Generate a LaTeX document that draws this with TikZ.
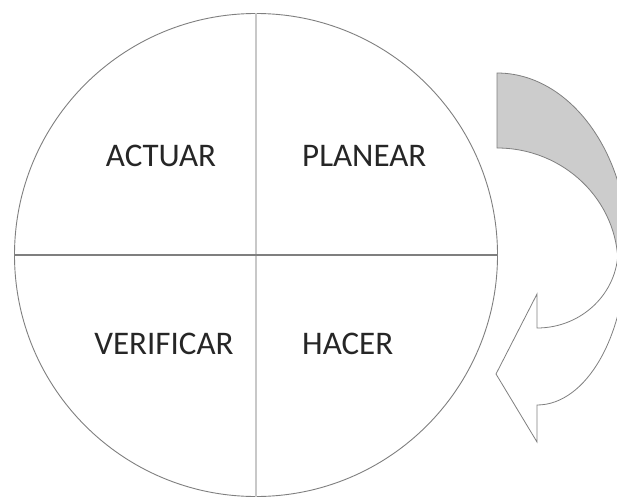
\documentclass[tikz,border=0pt]{standalone}
\usepackage{fontspec}
\setmainfont{Carlito}
\usepackage{tikz}
\usetikzlibrary{positioning}

\definecolor{rim}{HTML}{7F7F7F}
\definecolor{lightrule}{HTML}{C8C8C8}
\definecolor{back}{HTML}{CCCCCC}

\begin{document}
\begin{tikzpicture}[
  x=1pt, y=1pt,
  wheel/.style={draw=rim, circle, line width=0.9pt, inner sep=0pt, outer sep=0pt,
                minimum size=483pt},
  lbl/.style={font=\fontsize{33}{40}\selectfont, text=black!85, inner sep=0pt},
  arrowline/.style={draw=rim, line width=0.8pt, line join=miter}
]
\clip (0,0) rectangle (617,499);

\node[wheel] (ciclo) at (256,244) {};
\draw[lightrule, line width=1.8pt] (ciclo.north) -- (ciclo.south);
\draw[rim, line width=1.8pt] (ciclo.west) -- (ciclo.east);

\node[lbl] (actuar) at (161,343) {ACTUAR};
\node[lbl, anchor=west] (planear) at (302,343) {PLANEAR};
\node[lbl] (verificar) at (164,155) {VERIFICAR};
\node[lbl, anchor=west] (hacer) at (302,155) {HACER};

% curved arrow on the right
\coordinate (punta) at (496,125);
\filldraw[arrowline, fill=back] (497,426) -- (497,351)
  arc[start angle=90, end angle=0, x radius=121pt, y radius=117pt]
  -- (628,249)
  arc[start angle=0, end angle=90, x radius=131pt, y radius=177pt] -- cycle;
\draw[arrowline] (618,249)
  arc[start angle=0, end angle=-90, x radius=81pt, y radius=78pt]
  -- (537,205) -- (punta) -- (537,57) -- (537,94)
  arc[start angle=-90, end angle=0, x radius=89pt, y radius=155pt];
\end{tikzpicture}
\end{document}
